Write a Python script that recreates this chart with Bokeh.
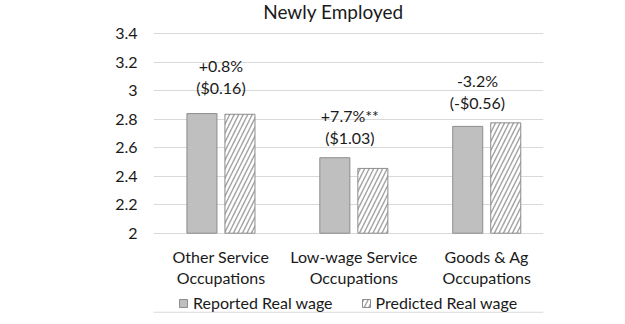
from bokeh.plotting import figure
from bokeh.models import ColumnDataSource, FixedTicker, Range1d, Legend, LegendItem
from bokeh.core.properties import value
from bokeh.embed import file_html
from bokeh.resources import INLINE

# ---- data ----
title_text = "Newly Employed"
categories = ["Other Service\nOccupations", "Low-wage Service\nOccupations", "Goods & Ag\nOccupations"]
reported = [2.84, 2.53, 2.75]
predicted = [2.835, 2.455, 2.775]
pct_change = ["+0.8%", "+7.7%**", "-3.2%"]
dollar_change = ["($0.16)", "($1.03)", "(-$0.56)"]
series_names = ["Reported Real wage", "Predicted Real wage"]
y_ticks = [2, 2.2, 2.4, 2.6, 2.8, 3, 3.2, 3.4]
y_tick_labels = ["2", "2.2", "2.4", "2.6", "2.8", "3", "3.2", "3.4"]

# ---- layout (screen-placement constants, in data units of the frame) ----
FONT = "Lato"
TXT = "#1a1a1a"
idx = list(range(len(categories)))
bar_w = 0.226
off = 0.143
y_base = 2
ann_x_shift = [0.0, -0.03, -0.07]
ann_y1 = [3.178, 2.825, 3.07]
ann_y2 = [3.026, 2.672, 2.92]
cat_label_y = 1.761
title_x, title_y = 0.846, 3.557
sep_y = 1.445
x_lo, x_hi = -0.5075, 2.427

src = ColumnDataSource(dict(
    x=idx,
    xr=[i - off for i in idx],
    xp=[i + off for i in idx],
    rep=reported,
    pred=predicted,
    ax=[i + s for i, s in zip(idx, ann_x_shift)],
    ay1=ann_y1,
    ay2=ann_y2,
    t1=pct_change,
    t2=dollar_change,
    cy=[cat_label_y] * len(idx),
    cat=categories,
))

p = figure(frame_width=390, frame_height=324, output_backend="svg", toolbar_location=None,
           x_range=Range1d(x_lo, x_hi), y_range=Range1d(1.359, 3.634),
           x_axis_location=None,
           min_border_left=153, min_border_right=82, min_border_top=0, min_border_bottom=0)
p.outline_line_color = None
p.background_fill_color = "white"
p.border_fill_color = "white"

r1 = p.vbar(x="xr", top="rep", bottom=y_base, width=bar_w, source=src,
            fill_color="#BFBFBF", line_color="#8C8C8C", line_width=1)
r2 = p.vbar(x="xp", top="pred", bottom=y_base, width=bar_w, source=src,
            fill_color="white", line_color="#8C8C8C", line_width=1,
            hatch_pattern="right_diagonal_line", hatch_color="#A6A6A6",
            hatch_weight=1.5, hatch_scale=9)

p.text(x="ax", y="ay1", text="t1", source=src, text_align="center", text_baseline="middle",
       text_font=value(FONT), text_font_size="16px", text_color=TXT)
p.text(x="ax", y="ay2", text="t2", source=src, text_align="center", text_baseline="middle",
       text_font=value(FONT), text_font_size="16px", text_color=TXT)

# category labels (x axis)
p.text(x="x", y="cy", text="cat", source=src, text_align="center", text_baseline="middle",
       text_line_height=1.1,
       text_font=value(FONT), text_font_size="16px", text_color=TXT)

# title
p.text(x=[title_x], y=[title_y], text=[title_text], text_align="center", text_baseline="middle",
       text_font=value(FONT), text_font_size="19px", text_color=TXT)

# separator line under legend
p.segment(x0=[x_lo], x1=[x_hi], y0=[sep_y], y1=[sep_y], line_color="#D9D9D9", line_width=1)

# y axis
p.yaxis.ticker = FixedTicker(ticks=y_ticks)
p.yaxis.major_label_overrides = {t: l for t, l in zip(y_ticks, y_tick_labels)}
p.yaxis.axis_line_color = None
p.yaxis.major_tick_line_color = None
p.yaxis.minor_tick_line_color = None
p.yaxis.major_label_standoff = 10
p.yaxis.major_label_text_font = FONT
p.yaxis.major_label_text_font_size = "16px"
p.yaxis.major_label_text_color = TXT

p.xgrid.grid_line_color = None
p.ygrid.ticker = FixedTicker(ticks=y_ticks)
p.ygrid.grid_line_color = "#D9D9D9"
p.ygrid.grid_line_width = 1

legend = Legend(items=[LegendItem(label=series_names[0], renderers=[r1]),
                       LegendItem(label=series_names[1], renderers=[r2])],
                orientation="horizontal", location=(25, 12),
                label_text_font=FONT, label_text_font_size="16px", label_text_color=TXT,
                label_height=16, glyph_width=10, glyph_height=10, label_standoff=5, spacing=28,
                padding=0, margin=0, border_line_alpha=0, background_fill_alpha=0)
p.add_layout(legend, "center")

open("out.html", "w").write(file_html(p, INLINE))
